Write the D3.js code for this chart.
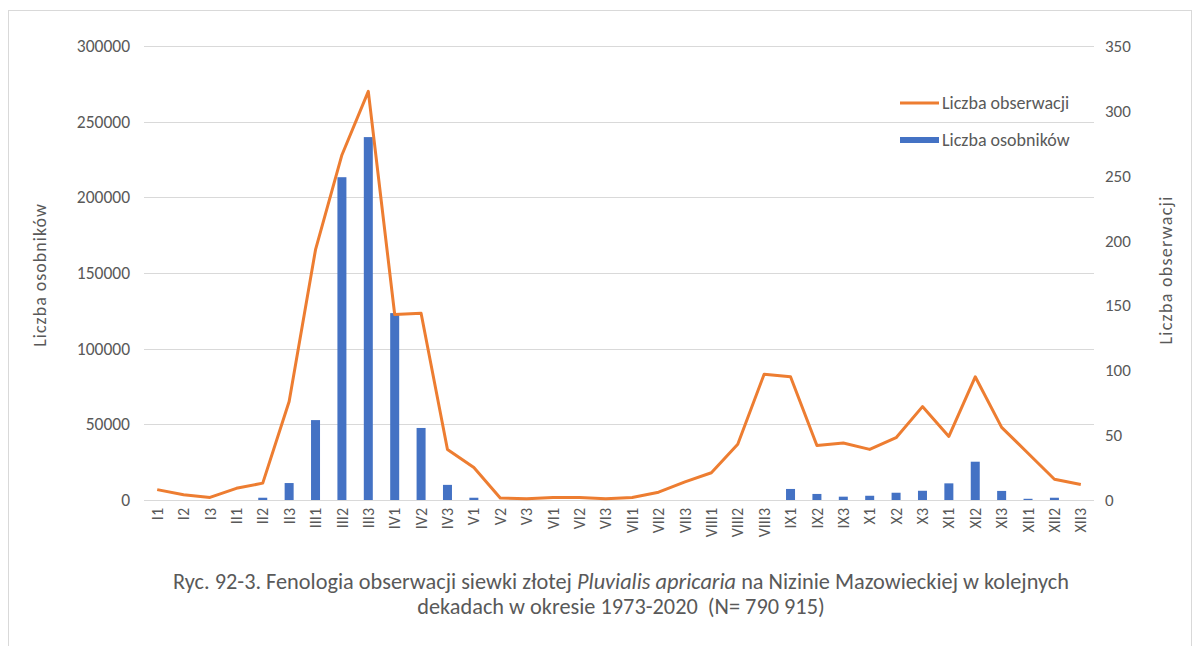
<!DOCTYPE html>
<html>
<head>
<meta charset="utf-8">
<script src="https://cdn.jsdelivr.net/npm/d3@7"></script>
<style>
  html, body { margin: 0; padding: 0; background: #fff; }
  svg { display: block; }
  text { font-family: Carlito, "Liberation Sans Narrow", "Open Sans", sans-serif; fill: #595959; }
</style>
</head>
<body>
<svg id="chart" width="1201" height="646"></svg>
<script>
const categories = ["I1","I2","I3","II1","II2","II3","III1","III2","III3","IV1","IV2","IV3",
  "V1","V2","V3","VI1","VI2","VI3","VII1","VII2","VII3","VIII1","VIII2","VIII3",
  "IX1","IX2","IX3","X1","X2","X3","XI1","XI2","XI3","XII1","XII2","XII3"];
// Liczba osobników (left axis)
const individuals = [0,0,0,0,1500,11200,52800,213300,239800,123500,47600,10000,
  1500,0,0,0,0,0,0,0,0,0,0,0,
  7300,4000,2200,2800,4800,6100,11000,25300,6000,800,1500,0];
// Liczba obserwacji (right axis)
const observations = [8,4,2,9,13,76,193,266,315,143,144,39,
  25,1.5,1,2,2,1,2,6,14,21,43,97,
  95,42,44,39,48,72,49,95,56,36,16,12];
const leftTicks = [0,50000,100000,150000,200000,250000,300000];
const rightTicks = [0,50,100,150,200,250,300,350];

const svg = d3.select("#chart");
const x0 = 144, x1 = 1094, yTop = 46, yBot = 500;

// frame
svg.append("rect").attr("x", 8.5).attr("y", 10.5).attr("width", 1183).attr("height", 640)
  .attr("fill", "none").attr("stroke", "#d9d9d9").attr("stroke-width", 1);

const x = d3.scaleBand().domain(categories).range([x0, x1]);
const yL = d3.scaleLinear().domain([0, 300000]).range([yBot, yTop]);
const yR = d3.scaleLinear().domain([0, 350]).range([yBot, yTop]);

// gridlines
svg.append("g").selectAll("line").data(leftTicks).join("line")
  .attr("x1", x0).attr("x2", x1)
  .attr("y1", d => Math.round(yL(d)) + 0.5).attr("y2", d => Math.round(yL(d)) + 0.5)
  .attr("stroke", "#d9d9d9").attr("stroke-width", 1);

// left axis
const gL = svg.append("g").attr("transform", `translate(${x0 - 14},0)`)
  .call(d3.axisLeft(yL).tickValues(leftTicks).tickFormat(d3.format("d")).tickSize(0).tickPadding(0));
gL.select(".domain").remove();
gL.selectAll("text").style("font-size", "17.5px").attr("fill", "#595959");

// right axis
const gR = svg.append("g").attr("transform", `translate(${x1 + 11},0)`)
  .call(d3.axisRight(yR).tickValues(rightTicks).tickSize(0).tickPadding(0));
gR.select(".domain").remove();
gR.selectAll("text").style("font-size", "17px").attr("fill", "#595959");

// bars
const bw = 9;
svg.append("g").selectAll("rect").data(categories).join("rect")
  .attr("x", d => x(d) + x.bandwidth() / 2 - bw / 2)
  .attr("width", bw)
  .attr("y", (d, i) => yL(individuals[i]))
  .attr("height", (d, i) => yBot - yL(individuals[i]))
  .attr("fill", "#4472C4");

// line
const line = d3.line()
  .x((d, i) => x(categories[i]) + x.bandwidth() / 2)
  .y(d => yR(d));
svg.append("path").datum(observations)
  .attr("d", line).attr("fill", "none")
  .attr("stroke", "#ED7D31").attr("stroke-width", 3).attr("stroke-linejoin", "round");

// x axis labels
const gX = svg.append("g").attr("transform", `translate(0,${yBot})`)
  .call(d3.axisBottom(x).tickSize(0).tickPadding(0));
gX.select(".domain").remove();
gX.selectAll("text")
  .style("font-size", "16px")
  .attr("fill", "#595959")
  .attr("transform", "rotate(-90)")
  .attr("x", -8).attr("y", 0).attr("dy", "0.35em")
  .attr("text-anchor", "end");

// axis titles
svg.append("text").attr("transform", "translate(46,275) rotate(-90)")
  .attr("text-anchor", "middle").style("font-size", "18px").style("letter-spacing", "1px")
  .text("Liczba osobników");
svg.append("text").attr("transform", "translate(1172,270) rotate(-90)")
  .attr("text-anchor", "middle").style("font-size", "18px").style("letter-spacing", "1.3px")
  .text("Liczba obserwacji");

// legend
const lg = svg.append("g");
lg.append("line").attr("x1", 900).attr("x2", 939).attr("y1", 103).attr("y2", 103)
  .attr("stroke", "#ED7D31").attr("stroke-width", 3);
lg.append("text").attr("x", 942).attr("y", 103).attr("dy", "0.35em")
  .style("font-size", "18px").text("Liczba obserwacji");
lg.append("rect").attr("x", 900).attr("y", 137).attr("width", 39).attr("height", 6)
  .attr("fill", "#4472C4");
lg.append("text").attr("x", 942).attr("y", 140).attr("dy", "0.35em")
  .style("font-size", "18px").text("Liczba osobników");

// caption
const cap1 = svg.append("text").attr("x", 621).attr("y", 589).attr("text-anchor", "middle")
  .style("font-size", "22.3px");
cap1.append("tspan").text("Ryc. 92-3. Fenologia obserwacji siewki złotej ");
cap1.append("tspan").style("font-style", "italic").text("Pluvialis apricaria");
cap1.append("tspan").text(" na Nizinie Mazowieckiej w kolejnych");
svg.append("text").attr("x", 621).attr("y", 614).attr("text-anchor", "middle")
  .style("font-size", "22.3px").style("white-space", "pre")
  .text("dekadach w okresie 1973-2020  (N= 790 915)");
</script>
</body>
</html>
